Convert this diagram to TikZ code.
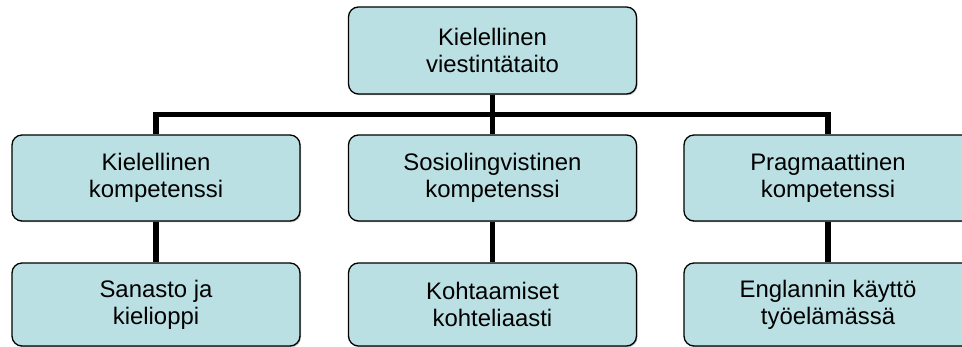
\documentclass[tikz,border=0pt]{standalone}
\usepackage{fontspec}
\setmainfont{Liberation Sans}
\usetikzlibrary{shadows}
\definecolor{boxfill}{RGB}{187,224,227}
\tikzset{
  box/.style={draw=black, line width=1.3pt, fill=boxfill, rounded corners=10pt,
    minimum width=288pt, inner sep=0pt, align=center,
    font={\fontsize{23.9}{27}\selectfont},
    drop shadow={shadow xshift=1pt, shadow yshift=-1.2pt, fill=black!45, opacity=0.6}},
  link/.style={draw=black, line width=5.5pt, line join=miter}
}
\begin{document}
\begin{tikzpicture}[x=1pt,y=-1pt]
\useasboundingbox (0,0) rectangle (962,347);
\node[box, minimum height=87pt] (top) at (492.5,50.5) {Kielellinen\\viestintätaito};
\node[box, minimum height=86pt] (l1) at (156,178) {Kielellinen\\kompetenssi};
\node[box, minimum height=86pt] (m1) at (492.5,178) {Sosiolingvistinen\\kompetenssi};
\node[box, minimum height=86pt] (r1) at (828,178) {Pragmaattinen\\kompetenssi};
\node[box, minimum height=83pt] (l2) at (156,304.5) {Sanasto ja\\kielioppi};
\node[box, minimum height=83pt] (m2) at (492.5,304.5) {Kohtaamiset\\kohteliaasti};
\node[box, minimum height=83pt] (r2) at (828,304.5) {Englannin käyttö\\työelämässä};
\coordinate (j) at (492.5,114.5);
\draw[link] (top.south) -- (j);
\draw[link] (l1.north) |- (j) -| (r1.north);
\draw[link] (j) -- (m1.north);
\draw[link] (l1.south) -- (l2.north);
\draw[link] (m1.south) -- (m2.north);
\draw[link] (r1.south) -- (r2.north);
\end{tikzpicture}
\end{document}
